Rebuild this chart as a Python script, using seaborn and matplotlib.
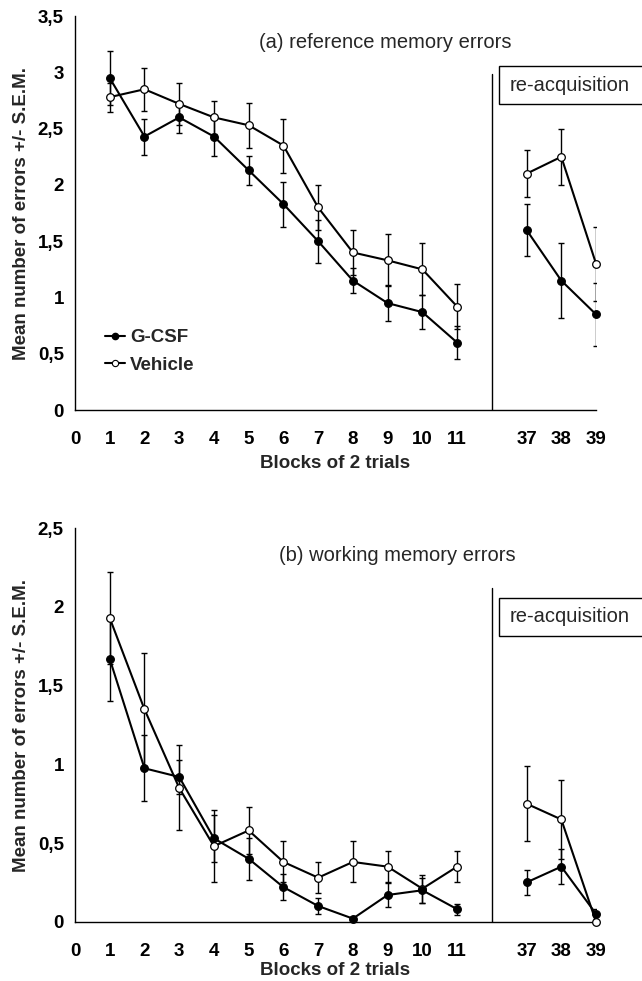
import numpy as np
import pandas as pd
import matplotlib
matplotlib.use('Agg')
import matplotlib.pyplot as plt
from matplotlib.lines import Line2D
from matplotlib.patches import Rectangle
import seaborn as sns

blocks = [1, 2, 3, 4, 5, 6, 7, 8, 9, 10, 11, 37, 38, 39]

# (a) reference memory errors
ref_gcsf = [2.95, 2.43, 2.60, 2.43, 2.13, 1.83, 1.50, 1.15, 0.95, 0.87, 0.60, 1.60, 1.15, 0.85]
ref_gcsf_sem = [0.24, 0.16, 0.14, 0.17, 0.13, 0.20, 0.19, 0.11, 0.16, 0.15, 0.15, 0.23, 0.33, 0.28]
ref_veh = [2.78, 2.85, 2.72, 2.60, 2.53, 2.35, 1.80, 1.40, 1.33, 1.25, 0.92, 2.10, 2.25, 1.30]
ref_veh_sem = [0.13, 0.19, 0.19, 0.15, 0.20, 0.24, 0.20, 0.20, 0.23, 0.23, 0.20, 0.21, 0.25, 0.33]

# (b) working memory errors
work_gcsf = [1.67, 0.975, 0.92, 0.53, 0.40, 0.22, 0.10, 0.02, 0.17, 0.20, 0.08, 0.25, 0.35, 0.05]
work_gcsf_sem = [0.27, 0.21, 0.11, 0.15, 0.135, 0.085, 0.05, 0.01, 0.075, 0.08, 0.035, 0.08, 0.11, 0.03]
work_veh = [1.93, 1.35, 0.85, 0.48, 0.58, 0.38, 0.28, 0.38, 0.35, 0.21, 0.35, 0.75, 0.65, 0.0]
work_veh_sem = [0.29, 0.36, 0.27, 0.23, 0.15, 0.13, 0.10, 0.13, 0.10, 0.09, 0.10, 0.24, 0.25, 0.0]

FS = 13.5


def block_pos(b):
    # blocks 37-39 sit after a gap at 12
    return b if b <= 11 else b - 24


def make_df(gcsf, gcsf_sem, veh, veh_sem):
    rows = []
    for name, vals, sems in [('G-CSF', gcsf, gcsf_sem), ('Vehicle', veh, veh_sem)]:
        for b, v, s in zip(blocks, vals, sems):
            rows.append({'block': b, 'pos': block_pos(b), 'mean': v, 'sem': s,
                         'group': name, 'segment': 'acq' if b <= 11 else 'reacq'})
    return pd.DataFrame(rows)


def draw_panel(ax, df, ymax, title, title_xy, box_frac, line_top, xlabelpad):
    for name, fc in [('Vehicle', 'white'), ('G-CSF', 'black')]:
        sub = df[df['group'] == name]
        ax.errorbar(sub['pos'], sub['mean'], yerr=sub['sem'], fmt='none',
                    ecolor='black', elinewidth=1, capsize=2.2, capthick=1, zorder=2)
        sns.lineplot(data=sub, x='pos', y='mean', units='segment', estimator=None,
                     color='black', linewidth=1.5, marker='o', markersize=5.5,
                     markerfacecolor=fc, markeredgecolor='black', markeredgewidth=0.9,
                     ax=ax, zorder=3, clip_on=False)

    ax.set_xlim(0, 15)
    ax.set_ylim(0, ymax)
    ax.set_xticks(list(range(0, 16)))
    ax.set_xticklabels([str(i) for i in range(0, 12)] + [''] + ['37', '38', '39'],
                       fontweight='bold', fontsize=FS)
    yt = np.arange(0, ymax + 0.01, 0.5)
    ax.set_yticks(yt)
    ax.set_yticklabels([('%g' % v).replace('.', ',') for v in yt], fontweight='bold', fontsize=FS)
    ax.tick_params(direction='out', length=5, width=1, colors='black')
    ax.tick_params(axis='x', pad=10)
    ax.tick_params(axis='y', pad=3)
    ax.set_xlabel('Blocks of 2 trials', fontweight='bold', fontsize=FS, labelpad=xlabelpad)
    ax.set_ylabel('Mean number of errors +/- S.E.M.', fontweight='bold', fontsize=FS, labelpad=6)
    sns.despine(ax=ax)
    for sp in ['left', 'bottom']:
        ax.spines[sp].set_linewidth(1)
        ax.spines[sp].set_color('black')
    ax.axvline(12, ymin=0, ymax=line_top, color='black', linewidth=1)
    ax.text(title_xy[0], title_xy[1], title, transform=ax.transAxes,
            ha='center', va='center', fontsize=14.5)
    # label box runs off the right edge of the figure, as in the original
    y0, y1 = box_frac
    ax.add_patch(Rectangle((12.2, y0), 5, y1 - y0, transform=ax.get_xaxis_transform(),
                           fc='white', ec='black', lw=1, clip_on=False, zorder=4))
    ax.text(12.5, (y0 + y1) / 2, 're-acquisition', transform=ax.get_xaxis_transform(),
            ha='left', va='center', fontsize=14.5, zorder=5)


sns.set_style('white')
plt.rcParams['font.family'] = ['Liberation Sans', 'DejaVu Sans']

fig = plt.figure(figsize=(6.42, 9.81), dpi=100)
ax1 = fig.add_axes([0.1168, 0.582, 0.8116, 0.4016])
ax2 = fig.add_axes([0.1168, 0.0604, 0.8116, 0.4011])

draw_panel(ax1, make_df(ref_gcsf, ref_gcsf_sem, ref_veh, ref_veh_sem), 3.5,
           '(a) reference memory errors', (0.595, 0.934), (0.777, 0.873), 0.853, 5)
draw_panel(ax2, make_df(work_gcsf, work_gcsf_sem, work_veh, work_veh_sem), 2.5,
           '(b) working memory errors', (0.619, 0.932), (0.727, 0.823), 0.849, 1.5)

handles = [Line2D([], [], color='black', lw=1.5, marker='o', markersize=4.5,
                  markerfacecolor='black', markeredgecolor='black'),
           Line2D([], [], color='black', lw=1.5, marker='o', markersize=4.5,
                  markerfacecolor='white', markeredgecolor='black', markeredgewidth=0.8)]
ax1.legend(handles, ['G-CSF', 'Vehicle'], loc='upper left', bbox_to_anchor=(0.0576, 0.205),
           frameon=False, handlelength=1.07, handletextpad=0.27, labelspacing=0.55,
           borderpad=0, borderaxespad=0, prop={'weight': 'bold', 'size': FS})

fig.savefig('out.png', dpi=100)
